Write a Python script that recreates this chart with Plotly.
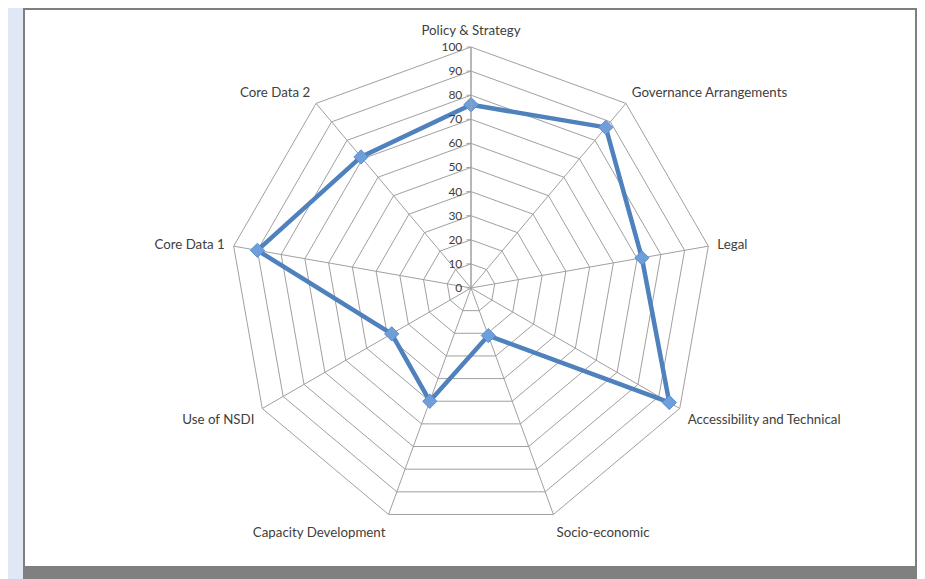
import plotly.graph_objects as go

categories = ["Policy & Strategy", "Governance Arrangements", "Legal",
              "Accessibility and Technical", "Socio-economic", "Capacity Development",
              "Use of NSDI", "Core Data 1", "Core Data 2"]
values = [76, 87, 72, 95, 21, 50, 38, 90, 71]
radial_ticks = [0, 10, 20, 30, 40, 50, 60, 70, 80, 90, 100]

# page has an 8px body margin; figure sized to fit the window
OFF = 8
W, H = 925 - OFF, 579 - OFF
def px(x):
    return (x - OFF) / W
def py(y):
    return 1 - (y - OFF) / H

fig = go.Figure()
fig.add_trace(go.Scatterpolar(
    r=values + values[:1],
    theta=categories + categories[:1],
    mode="lines+markers",
    line=dict(color="#4f81bd", width=4.5),
    marker=dict(symbol="diamond", size=11, color="#6f9fda",
                line=dict(color="#5b8fd0", width=1)),
    showlegend=False,
    hoverinfo="skip",
))

cx, cy, R = 471, 288, 241
fig.update_layout(
    width=W, height=H,
    margin=dict(l=0, r=0, t=0, b=0),
    paper_bgcolor="white",
    font=dict(family="Lato, 'Open Sans', sans-serif", size=13.3, color="#404040"),
    polar=dict(
        domain=dict(x=[px(cx - R), px(cx + R)], y=[py(cy + R), py(cy - R)]),
        bgcolor="white",
        gridshape="linear",
        angularaxis=dict(
            rotation=90, direction="clockwise",
            linecolor="#a0a0a0", linewidth=1,
            gridcolor="#a0a0a0", gridwidth=1,
            showline=True, ticks="outside", ticklen=6, tickcolor="rgba(0,0,0,0)",
            tickfont=dict(size=13.3, color="#404040"),
        ),
        radialaxis=dict(
            range=[0, 100], tickvals=radial_ticks,
            ticktext=[str(t) for t in radial_ticks],
            angle=90, tickangle=90, side="counterclockwise",
            showline=True, linecolor="#a0a0a0", linewidth=1,
            gridcolor="#a0a0a0", gridwidth=1,
            ticks="outside", ticklen=4, tickcolor="#a0a0a0",
            tickfont=dict(size=12, color="#404040"),
        ),
    ),
    shapes=[
        dict(type="rect", xref="paper", yref="paper", x0=0, x1=px(23), y0=0, y1=1,
             fillcolor="#e0e8f5", line=dict(width=0), layer="below"),
        dict(type="rect", xref="paper", yref="paper", x0=px(23), x1=1, y0=0, y1=py(567),
             fillcolor="#808080", line=dict(width=0), layer="below"),
        dict(type="rect", xref="paper", yref="paper", x0=px(916), x1=1, y0=0, y1=1,
             fillcolor="#808080", line=dict(width=0), layer="below"),
        dict(type="rect", xref="paper", yref="paper", x0=px(24), x1=px(916), y0=py(567), y1=py(9),
             fillcolor="rgba(0,0,0,0)", line=dict(color="#7f7f7f", width=2), layer="below"),
    ],
)
fig.write_html("out.html")
